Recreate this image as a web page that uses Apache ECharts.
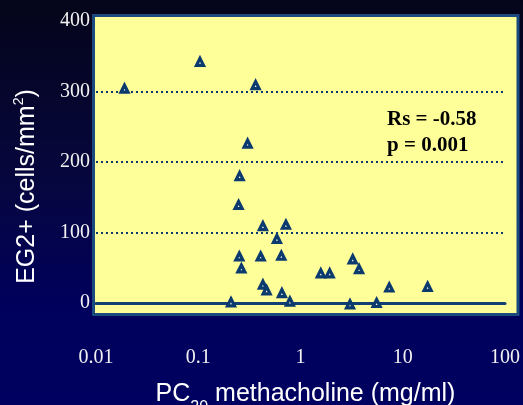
<!DOCTYPE html>
<html>
<head>
<meta charset="utf-8">
<script src="https://cdn.jsdelivr.net/npm/echarts@6/dist/echarts.min.js"></script>
<style>
html,body{margin:0;padding:0;background:#000030;}
#chart{width:523px;height:405px;}
</style>
</head>
<body>
<div id="chart"></div>
<script>
// PC20 methacholine (mg/ml) and EG2+ cell counts (cells/mm2)
const pc20 = [0.019, 0.104, 0.364, 0.304, 0.254, 0.248, 0.429, 0.72, 0.588, 0.252, 0.408, 0.649, 0.264, 0.429, 0.466, 0.658, 0.209, 0.787, 1.58, 1.93, 3.24, 3.74, 3.05, 5.55, 7.38, 17.5];
const eg2  = [304, 342, 309, 226, 180, 139, 109, 111, 91, 66, 66, 67, 49, 26, 18, 14, 1, 2, 42, 42, 62, 48, -2, 0, 22, 23];
const xTickLabels = ['0.01', '0.1', '1', '10', '100'];
const yTickLabels = ['0', '100', '200', '300', '400'];
const statLines = ['Rs = -0.58', 'p = 0.001'];

const chart = echarts.init(document.getElementById('chart'), null, {renderer: 'canvas'});
const navy = '#0b3a6e';

const option = {
  animation: false,
  backgroundColor: {
    type: 'linear', x: 0, y: 0, x2: 0, y2: 1,
    colorStops: [
      {offset: 0, color: '#05051a'},
      {offset: 0.45, color: '#06063f'},
      {offset: 0.75, color: '#00005c'},
      {offset: 1, color: '#000060'}
    ]
  },
  grid: [
    {left: 93.5, top: 15.5, width: 424.5, height: 299, show: true,
     backgroundColor: '#ffff99', borderColor: '#1b4a7e', borderWidth: 3},
    {left: 96, top: 21, right: 17, bottom: 102}
  ],
  xAxis: [
    {gridIndex: 0, type: 'value', show: false},
    {gridIndex: 1, type: 'log', logBase: 10, min: 0.01, max: 100,
     axisLine: {show: true, onZero: false, lineStyle: {color: '#123f73', width: 3}},
     axisTick: {show: false},
     splitLine: {show: false},
     axisLabel: {
       margin: 45, color: '#f2f2f2', fontFamily: 'Liberation Serif', fontSize: 20,
       showMinLabel: true, showMaxLabel: true,
       formatter: v => xTickLabels[Math.round(Math.log10(v)) + 2]
     }}
  ],
  yAxis: [
    {gridIndex: 0, type: 'value', show: false},
    {gridIndex: 1, type: 'value', min: 0, max: 400, interval: 100,
     axisLine: {show: false}, axisTick: {show: false},
     axisLabel: {
       margin: 6, color: '#f2f2f2', fontFamily: 'Liberation Serif', fontSize: 20,
       formatter: v => yTickLabels[Math.round(v / 100)]
     },
     splitLine: {show: true, showMinLine: false, showMaxLine: false,
       lineStyle: {color: navy, width: 2, type: [2, 3]}}}
  ],
  series: [{
    type: 'scatter', xAxisIndex: 1, yAxisIndex: 1, clip: false,
    data: pc20.map((x, i) => [x, eg2[i]]),
    symbol: 'triangle', symbolSize: 7,
    itemStyle: {color: '#fffff0', borderColor: navy, borderWidth: 3.2, opacity: 1}
  }],
  graphic: [
    {type: 'text', x: 26, y: 186.5, rotation: Math.PI / 2,
     style: {
       text: '{a|EG2+ (cells/mm}{s|2}{a|)}',
       align: 'center', verticalAlign: 'middle', fill: '#ffffff',
       rich: {
         a: {fontFamily: 'Liberation Sans', fontSize: 25, lineHeight: 28, verticalAlign: 'bottom', fill: '#ffffff'},
         s: {fontFamily: 'Liberation Sans', fontSize: 14, lineHeight: 18, verticalAlign: 'top', fill: '#ffffff'}
       }
     }},
    {type: 'text', x: 305.5, y: 382,
     style: {
       text: '{a|PC}{b|20}{a| methacholine (mg/ml)}',
       align: 'center', verticalAlign: 'top', fill: '#ffffff',
       rich: {
         a: {fontFamily: 'Liberation Sans', fontSize: 25, lineHeight: 30, verticalAlign: 'top', fill: '#ffffff'},
         b: {fontFamily: 'Liberation Sans', fontSize: 16, lineHeight: 34, verticalAlign: 'bottom', fill: '#ffffff'}
       }
     }},
    {type: 'text', x: 387, y: 107,
     style: {
       text: statLines.join('\n'),
       fontFamily: 'Liberation Serif', fontWeight: 'bold', fontSize: 21, lineHeight: 26,
       fill: '#000000', align: 'left', verticalAlign: 'top'
     }}
  ]
};
chart.setOption(option);
</script>
</body>
</html>
